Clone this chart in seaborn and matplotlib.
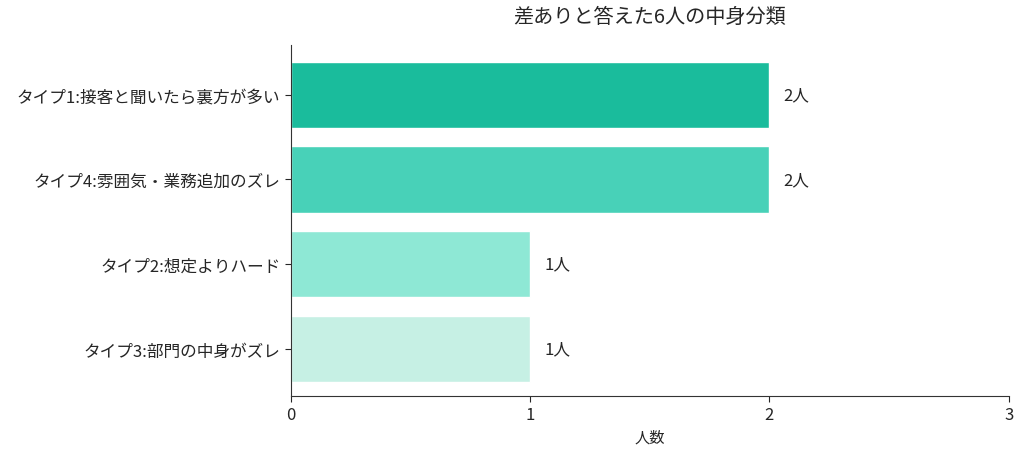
import matplotlib
matplotlib.use("Agg")
import matplotlib.pyplot as plt
import seaborn as sb
import pandas as pd

# Data
categories = ["タイプ1:接客と聞いたら裏方が多い", "タイプ4:雰囲気・業務追加のズレ",
              "タイプ2:想定よりハード", "タイプ3:部門の中身がズレ"]
counts = [2, 2, 1, 1]
bar_colors = ["#1abc9c", "#48d1b8", "#8ee8d5", "#c6f0e4"]

df = pd.DataFrame({"type": categories, "count": counts})

sb.set_style("white")
plt.rcParams['font.family'] = ['Noto Sans CJK JP', 'DejaVu Sans']

fig, ax = plt.subplots(figsize=(10.24, 4.56), dpi=100)
sb.barplot(data=df, x="count", y="type", hue="type", palette=bar_colors,
           orient="h", legend=False, ax=ax, saturation=1, width=0.78)

for i, v in enumerate(counts):
    ax.text(v + 0.06, i, f"{v}人", va="center", ha="left", fontsize=12)

ax.set_xlim(0, 3)
ax.set_ylim(3.55, -0.59)
ax.set_xticks([0, 1, 2, 3])
ax.set_xlabel("人数", fontsize=11)
ax.set_ylabel("")
ax.set_title("差ありと答えた6人の中身分類", fontsize=14.5, pad=16)
ax.tick_params(axis="both", labelsize=12, left=True, bottom=True, length=4)
sb.despine(ax=ax)
for s in ["left", "bottom"]:
    ax.spines[s].set_color("#333333")

fig.subplots_adjust(left=0.284, right=0.985, top=0.9, bottom=0.13)
fig.savefig("out.png", dpi=100)
